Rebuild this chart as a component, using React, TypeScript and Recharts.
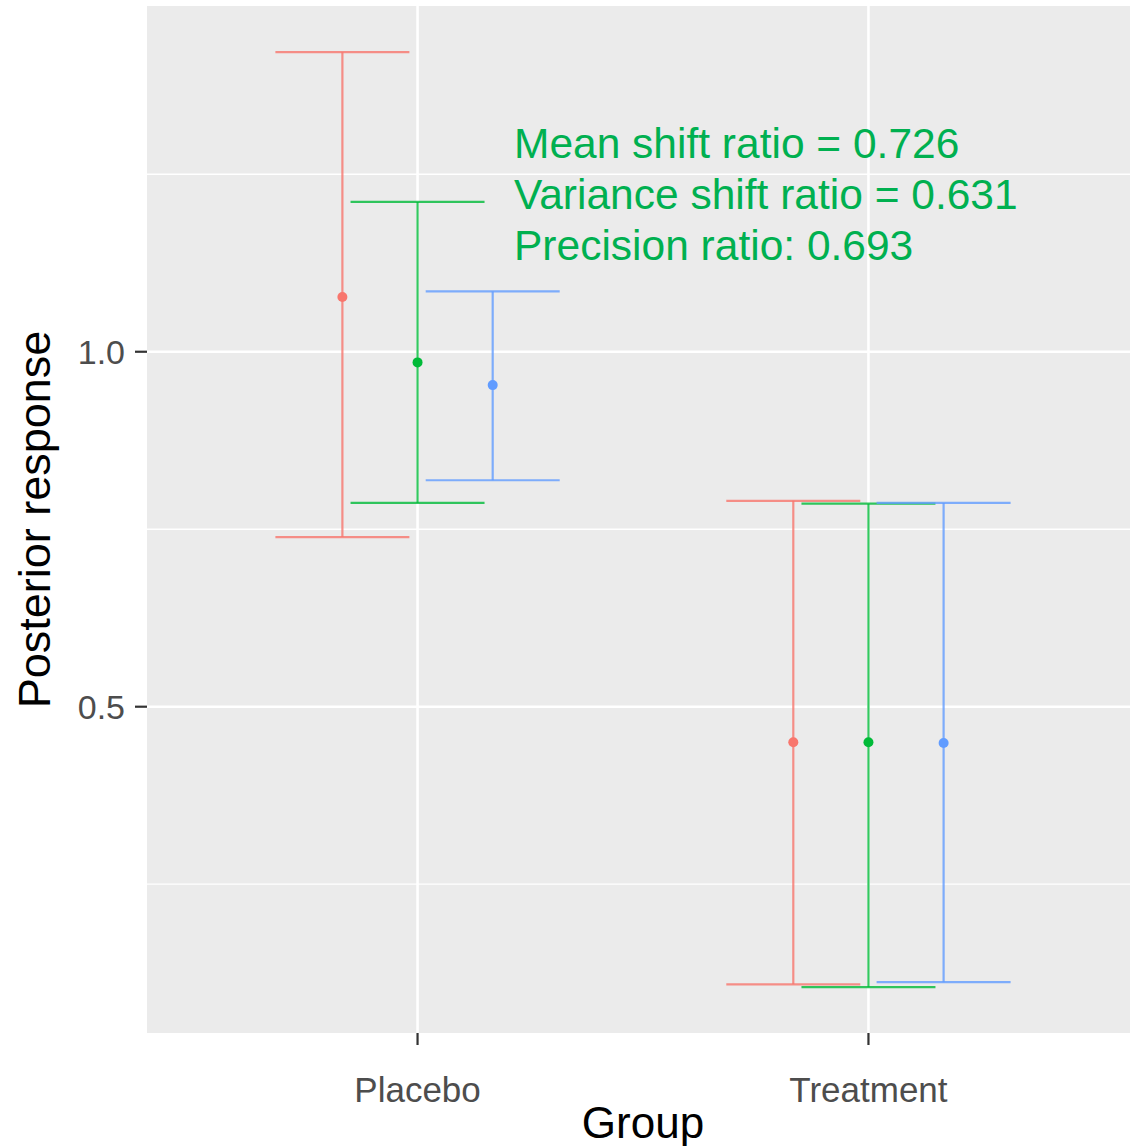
import React from 'react';
import {
  ComposedChart, Scatter, XAxis, YAxis, ErrorBar, ReferenceLine, ReferenceArea, Label,
} from 'recharts';

const groups = ['Placebo', 'Treatment'];
const seriesNames = ['Model A', 'Model B', 'Model C'];
const seriesColors = ['#F8766D', '#00BA38', '#619CFF'];
const dodgeOffsets = [-1 / 6, 0, 1 / 6];

const meanA = [1.077, 0.450];
const lowA = [0.739, 0.109];
const highA = [1.422, 0.790];

const meanB = [0.985, 0.450];
const lowB = [0.787, 0.105];
const highB = [1.211, 0.786];

const meanC = [0.953, 0.449];
const lowC = [0.819, 0.112];
const highC = [1.085, 0.787];

const yTicks = [0.5, 1.0];
const yMinorGrid = [0.25, 0.75, 1.25];
const yDomain: [number, number] = [0.0404, 1.487];
const xDomain: [number, number] = [0.4, 2.6];

const annotationLines = [
  'Mean shift ratio = 0.726',
  'Variance shift ratio = 0.631',
  'Precision ratio: 0.693',
];

const build = (means: number[], lows: number[], highs: number[], s: number) =>
  means.map((m, i) => ({
    x: i + 1 + dodgeOffsets[s],
    y: m,
    err: [m - lows[i], highs[i] - m],
    group: groups[i],
  }));

const seriesData = [
  build(meanA, lowA, highA, 0),
  build(meanB, lowB, highB, 1),
  build(meanC, lowC, highC, 2),
];

const FONT = '"Liberation Sans", Arial, sans-serif';

export default function App() {
  return (
    <div style={{ position: 'absolute', left: 0, top: 0, width: 1130, height: 1146, overflow: 'hidden', background: '#fff' }}>
      <ComposedChart
        width={1140}
        height={1146}
        margin={{ top: 6, right: 1, bottom: 0, left: 0 }}
        style={{ fontFamily: FONT }}
      >
        <XAxis
          type="number"
          dataKey="x"
          domain={xDomain}
          ticks={[1, 2]}
          allowDataOverflow
          tickFormatter={(v: number) => groups[Math.round(v) - 1]}
          height={113}
          axisLine={false}
          tickSize={12}
          tickMargin={32}
          tickLine={{ stroke: '#333333', strokeWidth: 2.2 }}
          tick={{ fill: '#4D4D4D', fontSize: 35, fontFamily: FONT }}
        >
          <Label value="Group" position="insideBottom" offset={8} style={{ fontSize: 44, fill: '#000', fontFamily: FONT }} />
        </XAxis>
        <YAxis
          type="number"
          dataKey="y"
          domain={yDomain}
          ticks={yTicks}
          allowDataOverflow
          tickFormatter={(v: number) => v.toFixed(1)}
          width={147}
          axisLine={false}
          tickSize={12}
          tickMargin={10}
          tickLine={{ stroke: '#333333', strokeWidth: 2.2 }}
          tick={{ fill: '#4D4D4D', fontSize: 34, fontFamily: FONT }}
        >
          <Label value="Posterior response" angle={-90} position="insideLeft" offset={34} style={{ fontSize: 45, fill: '#000', fontFamily: FONT, textAnchor: 'middle' }} />
        </YAxis>
        <ReferenceArea x1={xDomain[0]} x2={xDomain[1]} y1={yDomain[0]} y2={yDomain[1]} fill="#EBEBEB" fillOpacity={1} stroke="none" ifOverflow="hidden" />
        {yMinorGrid.map((v) => (
          <ReferenceLine key={'mn' + v} y={v} stroke="#FFFFFF" strokeWidth={1.3} />
        ))}
        {yTicks.map((v) => (
          <ReferenceLine key={'mj' + v} y={v} stroke="#FFFFFF" strokeWidth={2.6} />
        ))}
        {[1, 2].map((v) => (
          <ReferenceLine key={'vx' + v} x={v} stroke="#FFFFFF" strokeWidth={2.6} />
        ))}
        {seriesData.map((d, s) => (
          <Scatter
            key={seriesNames[s]}
            name={seriesNames[s]}
            data={d}
            fill={seriesColors[s]}
            isAnimationActive={false}
            shape={(p: any) => <circle cx={p.cx} cy={p.cy} r={5} fill={seriesColors[s]} />}
          >
            <ErrorBar
              dataKey="err"
              direction="y"
              width={67}
              stroke={seriesColors[s]}
              strokeOpacity={0.8}
              strokeWidth={2.2}
              isAnimationActive={false}
            />
          </Scatter>
        ))}
      </ComposedChart>
      <div
        style={{
          position: 'absolute',
          left: 514,
          top: 118,
          color: '#00B050',
          fontFamily: FONT,
          fontSize: 42.5,
          lineHeight: '51px',
          whiteSpace: 'pre',
        }}
      >
        {annotationLines.map((t) => (
          <div key={t}>{t}</div>
        ))}
      </div>
    </div>
  );
}
